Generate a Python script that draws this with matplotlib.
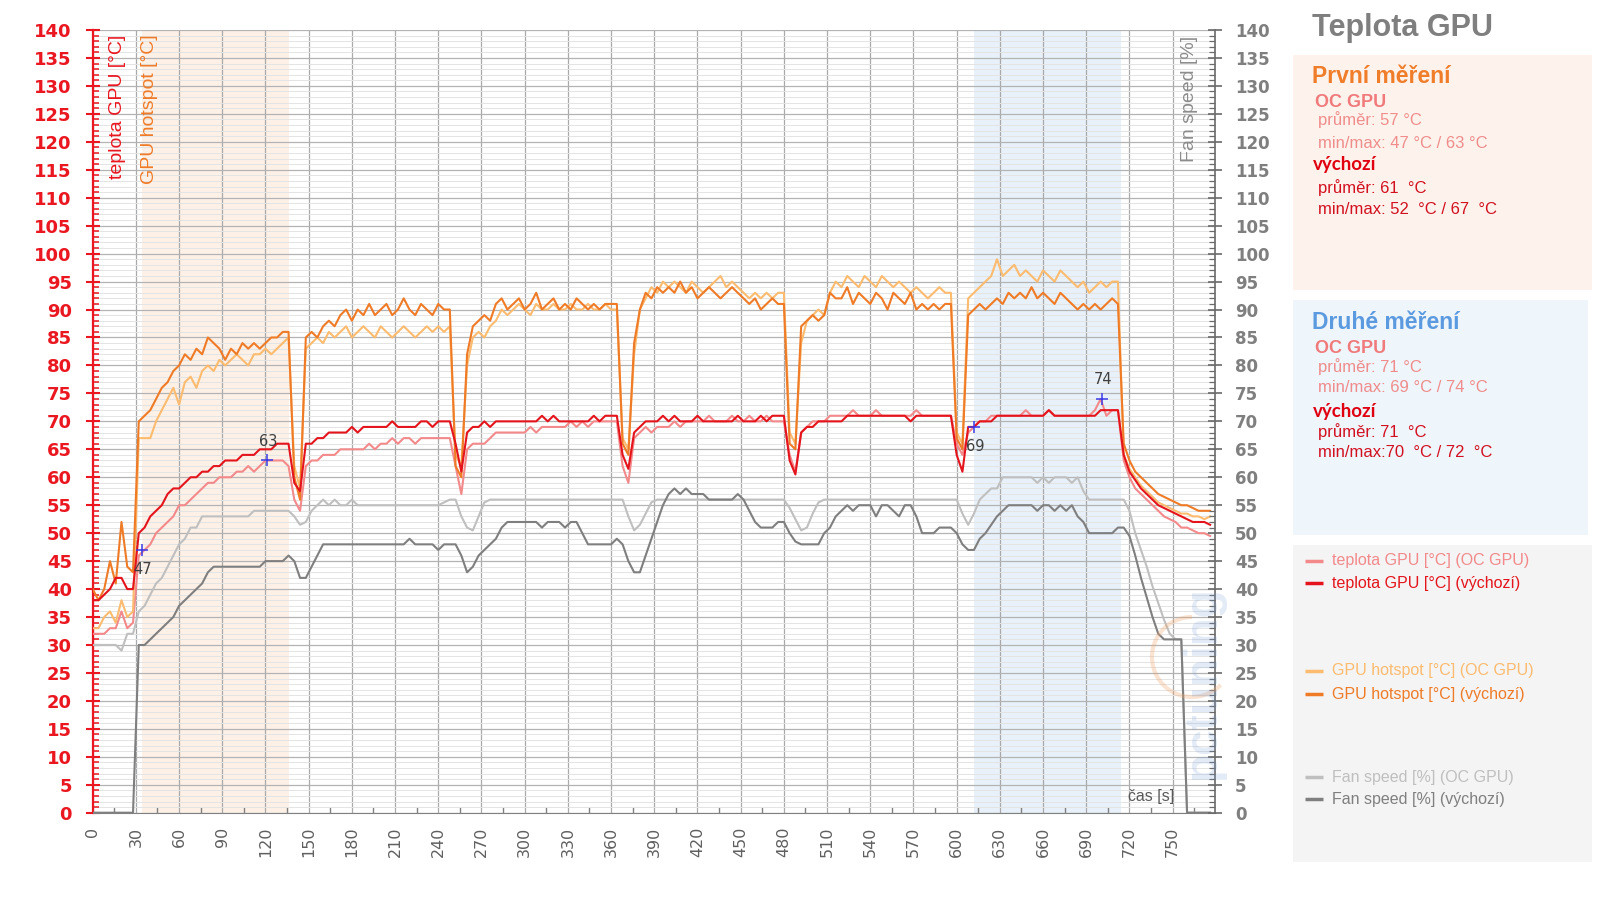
import numpy as np
import matplotlib
matplotlib.use("Agg")
import matplotlib.pyplot as plt
from matplotlib.lines import Line2D
from matplotlib.patches import Rectangle, Arc
from matplotlib.ticker import MultipleLocator

# ---------------- data (one sample every 4 s) ----------------
SAMPLE_STEP_S = 4

gpu_temp_oc = [
    32, 32, 32, 33, 33, 36, 33, 34, 46, 47,
    48, 50, 51, 52, 53, 55, 55, 56, 57, 58,
    59, 59, 60, 60, 60, 61, 61, 62, 61, 62,
    63, 63, 63, 63, 62, 56, 54, 62, 63, 63,
    64, 64, 64, 65, 65, 65, 65, 65, 66, 65,
    66, 66, 67, 66, 67, 67, 66, 67, 67, 67,
    67, 67, 67, 62, 57, 65, 66, 66, 66, 67,
    68, 68, 68, 68, 68, 68, 69, 68, 69, 69,
    69, 69, 69, 70, 69, 70, 69, 70, 70, 70,
    70, 70, 62, 59, 67, 68, 69, 68, 69, 69,
    69, 70, 69, 70, 70, 70, 70, 71, 70, 70,
    70, 71, 70, 70, 71, 70, 70, 71, 70, 70,
    70, 64, 61, 68, 69, 70, 70, 70, 71, 71,
    71, 71, 72, 71, 71, 71, 72, 71, 71, 71,
    71, 71, 71, 72, 71, 71, 71, 71, 71, 71,
    66, 64, 68, 69, 70, 70, 71, 71, 71, 71,
    71, 71, 72, 71, 71, 71, 72, 71, 71, 71,
    71, 71, 71, 71, 72, 74, 71, 72, 72, 63,
    60, 58, 57, 56, 55, 54, 53, 52.5, 52, 51,
    51, 50.5, 50, 50, 49.5]

gpu_temp_def = [
    38, 38, 39, 40, 42, 42, 40, 40, 50, 51,
    53, 54, 55, 57, 58, 58, 59, 60, 60, 61,
    61, 62, 62, 63, 63, 63, 64, 64, 64, 65,
    65, 65, 66, 66, 66, 59, 57.5, 66, 66, 67,
    67, 68, 68, 68, 68, 69, 68, 69, 69, 69,
    69, 69, 70, 69, 69, 69, 69, 70, 70, 69,
    70, 70, 70, 66, 61, 68, 69, 69, 70, 69,
    70, 70, 70, 70, 70, 70, 70, 70, 71, 70,
    71, 70, 70, 70, 70, 70, 70, 71, 70, 71,
    71, 71, 64, 61.5, 68, 69, 70, 70, 70, 71,
    70, 71, 70, 70, 70, 71, 70, 70, 70, 70,
    70, 70, 71, 70, 70, 70, 71, 70, 71, 71,
    71, 63, 60.5, 68, 69, 69, 70, 70, 70, 70,
    70, 71, 71, 71, 71, 71, 71, 71, 71, 71,
    71, 71, 70, 71, 71, 71, 71, 71, 71, 71,
    64, 61, 69, 69, 70, 70, 70, 71, 71, 71,
    71, 71, 71, 71, 71, 71, 72, 71, 71, 71,
    71, 71, 71, 71, 71, 72, 72, 72, 72, 64,
    61, 59.5, 58, 57, 56, 55, 54.5, 54, 53.5, 53,
    52.5, 52, 52, 52, 51.5]

hotspot_oc = [
    33, 33, 35, 36, 34, 38, 35, 36, 67, 67,
    67, 70, 72, 74, 76, 73, 77, 78, 76, 79,
    80, 79, 81, 80, 81, 82, 81, 80, 82, 82,
    83, 82, 83, 84, 85, 62, 58, 83, 84, 85,
    84, 86, 85, 86, 87, 85, 86, 87, 86, 85,
    87, 86, 85, 86, 87, 86, 85, 86, 87, 86,
    87, 86, 87, 64, 62, 80, 85, 86, 85, 87,
    88, 90, 89, 90, 91, 90, 89, 91, 90, 90,
    91, 90, 90, 91, 90, 90, 91, 90, 90, 91,
    90, 90, 67, 65, 82, 90, 92, 94, 93, 95,
    94, 95, 94, 93, 95, 94, 93, 94, 95, 96,
    94, 95, 94, 93, 92, 93, 92, 93, 92, 93,
    93, 68, 66, 84, 88, 89, 90, 89, 93, 95,
    94, 96, 95, 94, 96, 95, 94, 96, 95, 94,
    95, 94, 93, 94, 93, 92, 93, 94, 93, 93,
    68, 66, 92, 93, 94, 95, 96, 99, 96, 97,
    98, 96, 97, 96, 95, 97, 96, 95, 97, 96,
    95, 94, 95, 93, 94, 95, 94, 95, 95, 64,
    61.5, 60, 58.5, 57.5, 56.5, 55.5, 55, 54.5, 54, 53.5,
    53.5, 53, 53, 52.5, 53]

hotspot_def = [
    40, 38, 40, 45, 41, 52, 44, 43, 70, 71,
    72, 74, 76, 77, 79, 80, 82, 81, 83, 82,
    85, 84, 83, 81, 83, 82, 84, 83, 84, 83,
    84, 85, 85, 86, 86, 60, 56, 85, 86, 85,
    87, 88, 87, 89, 90, 88, 90, 89, 91, 89,
    90, 91, 89, 90, 92, 90, 89, 91, 90, 89,
    91, 90, 90, 62, 60, 82, 87, 88, 89, 88,
    91, 92, 90, 91, 92, 90, 91, 93, 90, 91,
    92, 90, 91, 90, 92, 91, 90, 91, 90, 91,
    91, 91, 66, 64, 84, 90, 93, 92, 94, 93,
    94, 93, 95, 93, 94, 92, 93, 94, 93, 92,
    93, 94, 93, 92, 91, 92, 90, 91, 92, 91,
    91, 66, 65, 87, 88, 89, 88, 89, 93, 92,
    92, 94, 91, 93, 92, 91, 93, 92, 90, 93,
    92, 91, 93, 90, 91, 90, 91, 90, 91, 91,
    67, 65, 89, 90, 91, 90, 91, 92, 91, 93,
    92, 93, 92, 94, 92, 93, 92, 91, 93, 92,
    91, 90, 91, 90, 91, 90, 91, 92, 91, 66,
    63, 61, 60, 59, 58, 57, 56.5, 56, 55.5, 55,
    55, 54.5, 54, 54, 54]

fan_oc = [
    30, 30, 30, 30, 30, 29, 32, 32, 36, 37,
    39, 41, 42, 44, 46, 48, 49, 51, 51, 53,
    53, 53, 53, 53, 53, 53, 53, 53, 54, 54,
    54, 54, 54, 54, 54, 53, 51.5, 52, 54, 55,
    56, 55, 56, 55, 55, 56, 55, 55, 55, 55,
    55, 55, 55, 55, 55, 55, 55, 55, 55, 55,
    55, 55.5, 56, 56, 53, 51, 50.5, 53, 55.5, 56,
    56, 56, 56, 56, 56, 56, 56, 56, 56, 56,
    56, 56, 56, 56, 56, 56, 56, 56, 56, 56,
    56, 56, 56, 53, 50.5, 51.5, 53.5, 55.5, 56, 56,
    56, 56, 56, 56, 56, 56, 56, 56, 56, 56,
    56, 56, 56, 56, 56, 56, 56, 56, 56, 56,
    56, 54.5, 52.5, 50.5, 51, 53.5, 55.5, 56, 56, 56,
    56, 56, 56, 56, 56, 56, 56, 56, 56, 56,
    56, 56, 56, 56, 56, 56, 56, 56, 56, 56,
    56, 53.5, 51.5, 53.5, 56, 57, 58, 58, 60, 60,
    60, 60, 60, 60, 59, 60, 59, 60, 60, 60,
    59, 60, 57.5, 56, 56, 56, 56, 56, 56, 56,
    54, 50, 47, 44, 40.5, 37.5, 34.5, 32, 31, 31,
    0, 0, 0, 0, 0]

fan_def = [
    0, 0, 0, 0, 0, 0, 0, 0, 30, 30,
    31, 32, 33, 34, 35, 37, 38, 39, 40, 41,
    43, 44, 44, 44, 44, 44, 44, 44, 44, 44,
    45, 45, 45, 45, 46, 45, 42, 42, 44, 46,
    48, 48, 48, 48, 48, 48, 48, 48, 48, 48,
    48, 48, 48, 48, 48, 49, 48, 48, 48, 48,
    47, 48, 48, 48, 46, 43, 44, 46, 47, 48,
    49, 51, 52, 52, 52, 52, 52, 52, 51, 52,
    52, 52, 51, 52, 52, 50, 48, 48, 48, 48,
    48, 49, 48, 45, 43, 43, 46, 49, 52, 55,
    57, 58, 57, 58, 57, 57, 57, 56, 56, 56,
    56, 56, 57, 56, 54, 52, 51, 51, 51, 52,
    52, 50, 48.5, 48, 48, 48, 48, 50, 51, 53,
    54, 55, 54, 55, 55, 55, 53, 55, 55, 54,
    53, 55, 55, 53, 50, 50, 50, 51, 51, 51,
    50, 48, 47, 47, 49, 50, 51.5, 53, 54, 55,
    55, 55, 55, 55, 54, 55, 55, 54, 55, 54,
    55, 53, 52, 50, 50, 50, 50, 50, 51, 51,
    49.5, 46, 42, 38.5, 35, 32, 31, 31, 31, 31,
    0, 0, 0, 0, 0]

x_ticks = list(range(0, 751, 30))
y_ticks = list(range(0, 141, 5))

first_span = (34, 136)
second_span = (612, 714)

mark_t = [34, 121, 612, 701]
mark_v = [47, 63, 69, 74]
mark_side = [-1, 1, -1, 1]

legend_labels = ["teplota GPU [°C] (OC GPU)", "teplota GPU [°C] (výchozí)",
                 "GPU hotspot [°C] (OC GPU)", "GPU hotspot [°C] (výchozí)",
                 "Fan speed [%] (OC GPU)", "Fan speed [%] (výchozí)"]

# ---------------- colours ----------------
C_TOC = "#f3898b"
C_TDEF = "#e5141c"
C_HOC = "#fcbb6e"
C_HDEF = "#ef7b27"
C_FOC = "#bfbfbf"
C_FDEF = "#7f7f7f"
C_AXRED = "#ea1620"

W, H = 1600, 898
fig = plt.figure(figsize=(16, 8.98), dpi=100)


def fx(px):
    return px / W


def fy(py):
    return 1 - py / H


ax = fig.add_axes([fx(92.7), fy(812.7), (1215 - 92.7) / W, (812.7 - 30.0) / H])
ax.set_xlim(0, 779.4)
ax.set_ylim(0, 140)

ax.axvspan(*first_span, color="#fdf1e7", lw=0, zorder=0)
ax.axvspan(*second_span, color="#e8f1fa", lw=0, zorder=0)

t = np.arange(len(gpu_temp_oc)) * SAMPLE_STEP_S
for vals, col in [(fan_oc, C_FOC), (fan_def, C_FDEF), (gpu_temp_oc, C_TOC),
                  (hotspot_oc, C_HOC), (hotspot_def, C_HDEF), (gpu_temp_def, C_TDEF)]:
    ax.plot(t, vals, color=col, lw=1.5, zorder=3)

# grid
ax.set_xticks(x_ticks)
ax.set_xticklabels([str(v) for v in x_ticks], rotation=90, fontsize=11.5, color="#5f5f5f")
ax.xaxis.set_minor_locator(MultipleLocator(15))
ax.set_yticks(y_ticks)
ax.set_yticklabels([str(v) for v in y_ticks], fontsize=13, fontweight="bold", color=C_AXRED)
ax.yaxis.set_minor_locator(MultipleLocator(1))
ax.set_axisbelow("line")
ax.grid(which="major", axis="x", color="#a9a9a9", lw=0.9)
ax.grid(which="major", axis="y", color="#b3b3b3", lw=0.9)
ax.grid(which="minor", axis="y", color="#e4e4e4", lw=0.7)

ax.tick_params(axis="y", which="major", direction="inout", length=10, width=1.5,
               color=C_AXRED, pad=10)
ax.tick_params(axis="y", which="minor", direction="in", length=4.5, width=1.1, color=C_AXRED)
ax.tick_params(axis="x", which="major", direction="in", length=0, pad=10)
ax.tick_params(axis="x", which="minor", direction="in", length=4.5, width=1.0, color="#808080")
ax.spines["left"].set_color(C_AXRED)
ax.spines["left"].set_linewidth(1.6)
ax.spines["bottom"].set_color("#808080")
ax.spines["top"].set_visible(False)
ax.spines["right"].set_visible(False)

ax2 = ax.twinx()
ax2.set_ylim(0, 140)
ax2.set_yticks(y_ticks)
ax2.set_yticklabels([str(v) for v in y_ticks], fontsize=12, fontweight="bold", color="#7f7f7f")
ax2.yaxis.set_minor_locator(MultipleLocator(1))
ax2.tick_params(axis="y", which="major", direction="inout", length=10, width=1.2,
                color="#6a6a6a", pad=9.4)
ax2.tick_params(axis="y", which="minor", direction="in", length=4.5, width=0.9, color="#6a6a6a")
for s in ["left", "top", "bottom"]:
    ax2.spines[s].set_visible(False)
ax2.spines["right"].set_color("#6a6a6a")
ax2.spines["right"].set_linewidth(1.2)

# markers with labels
for tt, vv, sd in zip(mark_t, mark_v, mark_side):
    ax.plot(tt, vv, marker="+", color="#3b3be8", ms=9, mew=1.1, zorder=6)
    ax.annotate(str(vv), (tt, vv), xytext=(1, 14 * sd), textcoords="offset points",
                ha="center", va="center", fontsize=10.5, color="#3f3f3f", zorder=6)

# axis titles
SANS = ["Liberation Sans", "DejaVu Sans"]
fig.text(fx(117.5), fy(35), "teplota GPU [°C]", rotation=90, ha="center", va="top",
         fontsize=14, color=C_AXRED, family=SANS)
fig.text(fx(149), fy(34), "GPU hotspot [°C]", rotation=90, ha="center", va="top",
         fontsize=14, color=C_HDEF, family=SANS)
fig.text(fx(1190), fy(36), "Fan speed [%]", rotation=90, ha="center", va="top",
         fontsize=14, color="#8c8c8c", family=SANS)
fig.text(fx(1128), fy(801), "čas [s]", ha="left", va="baseline",
         fontsize=11.5, color="#595959", family=SANS)

# watermark
fig.text(fx(1203), fy(682), "pctuning", rotation=90, ha="center", va="center",
         fontsize=33, fontweight="bold", color="#6d9ad6", alpha=0.2, family=SANS)
fig.add_artist(Arc((fx(1192), fy(657)), 80 / W, 80 / H, theta1=90, theta2=300,
                   transform=fig.transFigure, color="#f3a46a", lw=3, alpha=0.3))

# ---------------- right panel ----------------
def box(x0, y0, x1, y1, col):
    fig.add_artist(Rectangle((fx(x0), fy(y1)), (x1 - x0) / W, (y1 - y0) / H,
                             transform=fig.transFigure, facecolor=col, edgecolor="none", zorder=0))

box(1293, 55, 1592, 290, "#fdf3ec")
box(1293, 300, 1588, 535, "#eef5fb")
box(1293, 545, 1592, 862, "#f4f4f4")

fig.text(fx(1312), fy(36), "Teplota GPU", ha="left", va="baseline", fontsize=22,
         fontweight="bold", color="#7f7f7f", family=SANS)

C_OCTXT = "#f08c8c"
C_DEFTXT = "#d31020"


def stats_block(head, head_col, y_head, oc_lines, def_lines, ys):
    fig.text(fx(1311.7), fy(y_head), head, ha="left", va="baseline", fontsize=16.5,
             fontweight="bold", color=head_col, family=SANS)
    fig.text(fx(1315), fy(ys[0]), "OC GPU", ha="left", va="baseline", fontsize=13,
             fontweight="bold", color="#f07a7c", family=SANS)
    fig.text(fx(1318.3), fy(ys[1]), oc_lines[0], ha="left", va="baseline", fontsize=12,
             color=C_OCTXT, family=SANS)
    fig.text(fx(1318.3), fy(ys[2]), oc_lines[1], ha="left", va="baseline", fontsize=12,
             color=C_OCTXT, family=SANS)
    fig.text(fx(1313.3), fy(ys[3]), "výchozí", ha="left", va="baseline", fontsize=13.5,
             fontweight="bold", color="#e00010", family=["Lato", "DejaVu Sans"])
    fig.text(fx(1318.3), fy(ys[4]), def_lines[0], ha="left", va="baseline", fontsize=12,
             color=C_DEFTXT, family=SANS)
    fig.text(fx(1318.3), fy(ys[5]), def_lines[1], ha="left", va="baseline", fontsize=12,
             color=C_DEFTXT, family=SANS)


stats_block("První měření", "#f07d2a", 82.7,
            ["průměr: 57 °C", "min/max: 47 °C / 63 °C"],
            ["průměr: 61  °C", "min/max: 52  °C / 67  °C"],
            [107.3, 125, 147.7, 170, 192.7, 214.3])
stats_block("Druhé měření", "#5c9ae0", 329.3,
            ["průměr: 71 °C", "min/max: 69 °C / 74 °C"],
            ["průměr: 71  °C", "min/max:70  °C / 72  °C"],
            [352.7, 371.7, 391.7, 416.7, 436.7, 456.7])

leg_y = [560.7, 583.3, 671, 694, 777.3, 799.3]
leg_col = [C_TOC, C_TDEF, C_HOC, C_HDEF, C_FOC, C_FDEF]
for lab, yy, col in zip(legend_labels, leg_y, leg_col):
    fig.add_artist(Line2D([fx(1305), fx(1323)], [fy(yy), fy(yy)], transform=fig.transFigure,
                          color=col, lw=2.5, solid_capstyle="butt"))
    fig.text(fx(1331.7), fy(yy), lab, ha="left", va="center", fontsize=11.5,
             color=col, family=SANS)

fig.savefig("out.png", dpi=100)
